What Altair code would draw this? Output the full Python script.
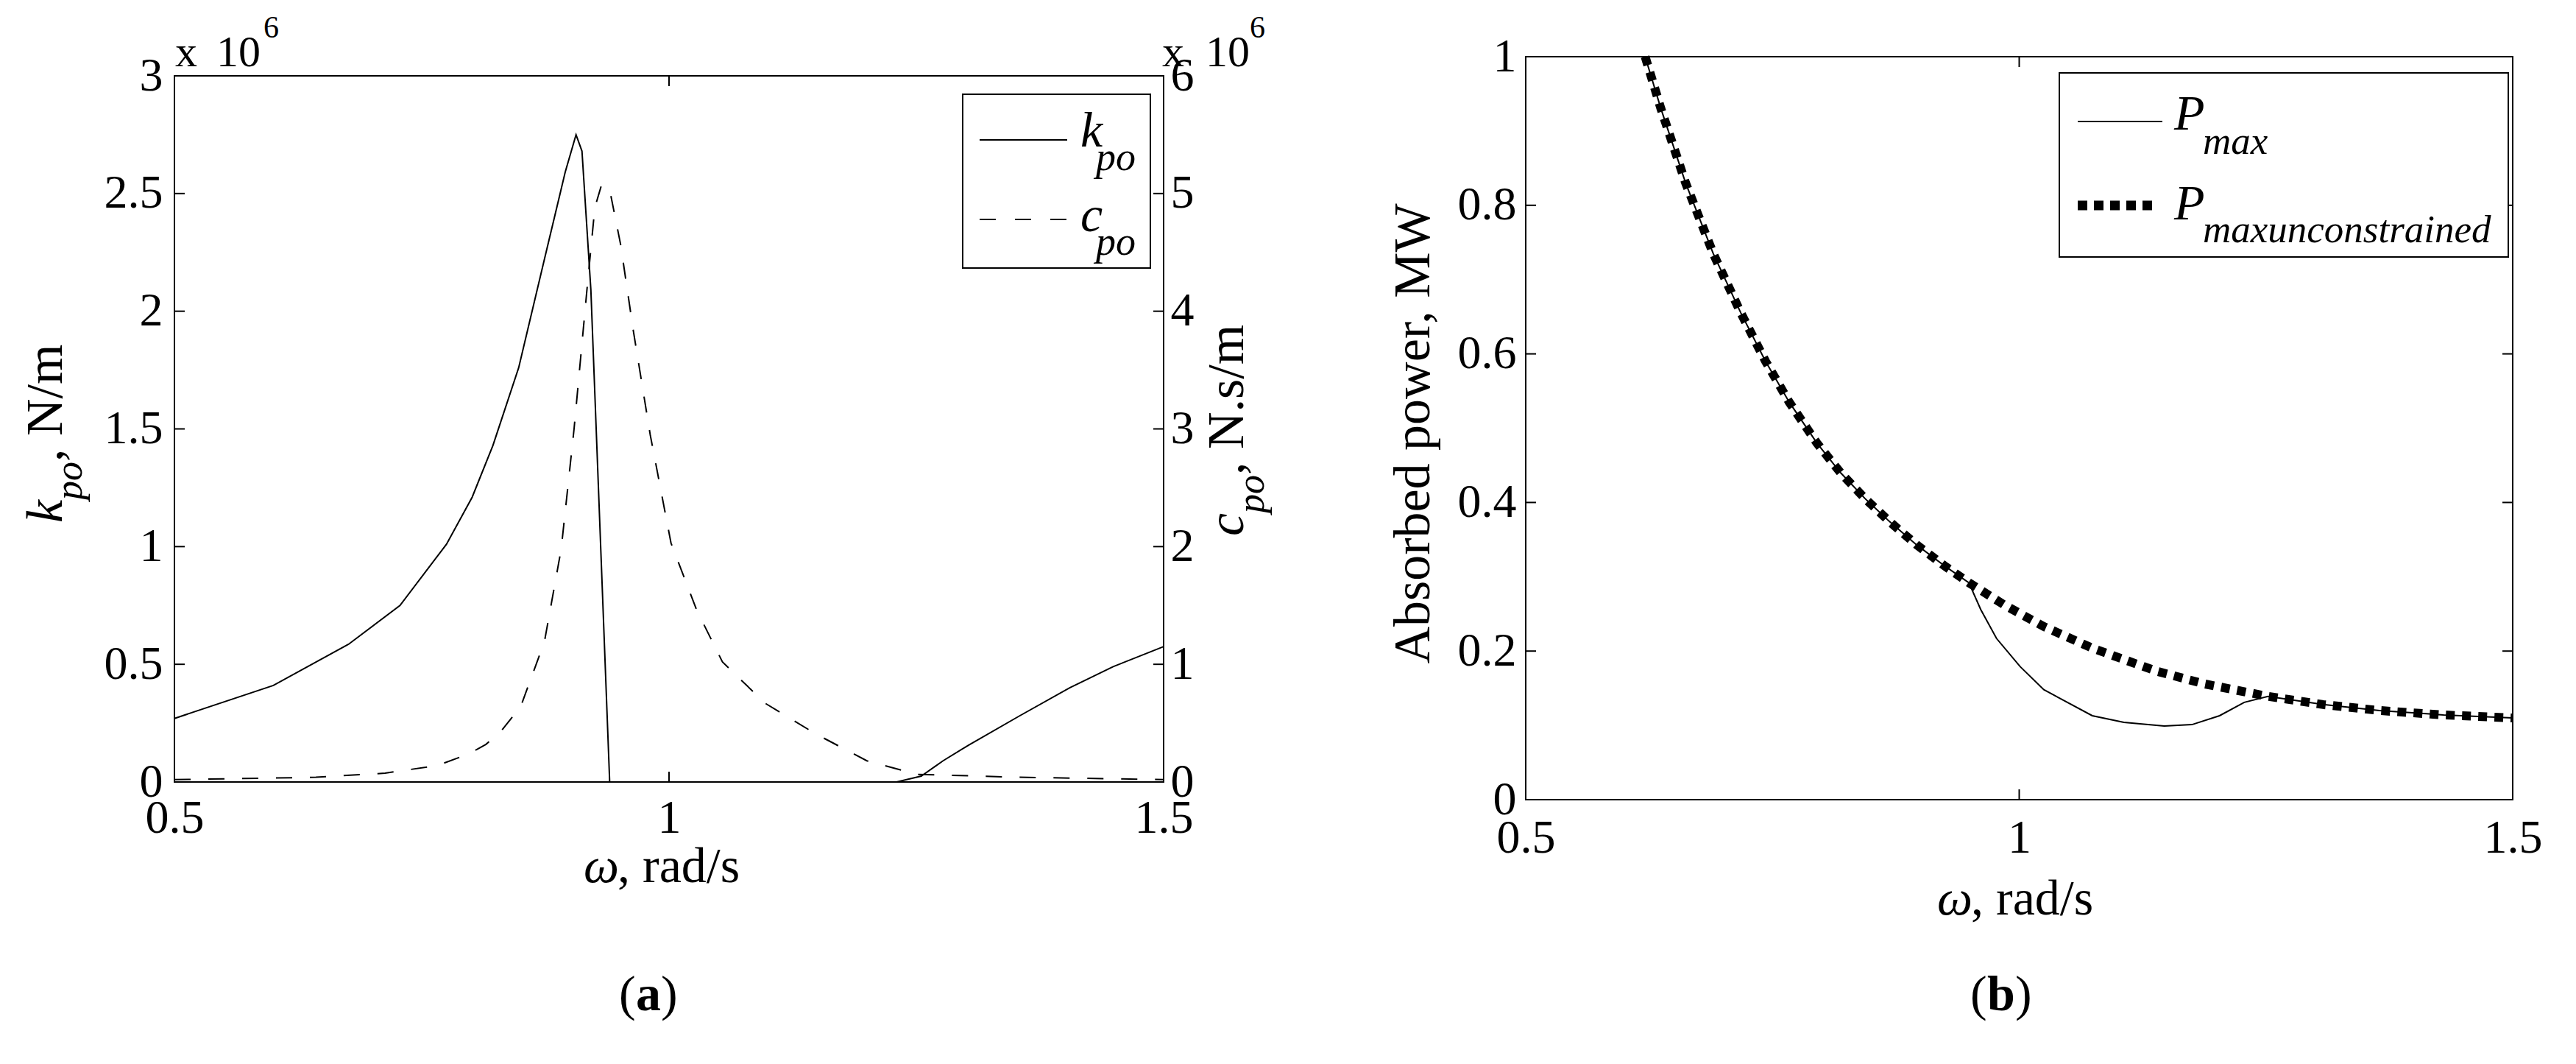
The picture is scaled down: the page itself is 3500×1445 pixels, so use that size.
import altair as alt
import pandas as pd

FONT = "Liberation Serif"
W_A, H_A = 1344, 985      # panel (a) group; its frame starts TOP_A px below the group top
TOP_A = 26
W_B, H_B = 1341, 1009

# ---------------- data ----------------
# panel (a): k_po in units of 1e6 N/m, c_po in units of 1e6 N.s/m
w_k = [0.5, 0.6, 0.676, 0.728, 0.775, 0.801, 0.822, 0.848, 0.874, 0.895, 0.906, 0.912,
       0.921, 0.940, 1.230, 1.255, 1.277, 1.303, 1.354, 1.405, 1.449, 1.5]
k_po = [0.27, 0.41, 0.585, 0.75, 1.01, 1.21, 1.43, 1.76, 2.22, 2.59, 2.75, 2.68,
        2.09, 0.0, 0.0, 0.025, 0.09, 0.157, 0.28, 0.40, 0.49, 0.575]
w_c = [0.5, 0.643, 0.713, 0.766, 0.798, 0.815, 0.831, 0.850, 0.874, 0.891, 0.904, 0.917,
       0.925, 0.932, 0.941, 0.951, 0.964, 0.981, 1.002, 1.028, 1.054, 1.097, 1.148, 1.200,
       1.251, 1.354, 1.5]
c_po = [0.02, 0.04, 0.075, 0.14, 0.24, 0.32, 0.44, 0.64, 1.19, 1.98, 3.0, 4.18,
        4.88, 5.08, 4.99, 4.57, 3.83, 2.95, 2.03, 1.46, 1.02, 0.67, 0.41, 0.18,
        0.065, 0.04, 0.02]

# panel (b): absorbed power in MW
w_unc = [0.621, 0.637, 0.662, 0.690, 0.718, 0.743, 0.767, 0.795, 0.819, 0.844, 0.868, 0.896,
         0.924, 0.949, 0.985, 1.025, 1.074, 1.139, 1.187, 1.252, 1.308, 1.365, 1.430, 1.5]
p_unc = [1.0, 0.93, 0.83, 0.735, 0.655, 0.59, 0.535, 0.48, 0.44, 0.405, 0.375, 0.343,
         0.315, 0.292, 0.262, 0.233, 0.204, 0.173, 0.156, 0.139, 0.128, 0.12, 0.114, 0.110]
w_max = [0.621, 0.637, 0.662, 0.690, 0.718, 0.743, 0.767, 0.795, 0.819, 0.844, 0.868, 0.896,
         0.924, 0.949, 0.961, 0.977, 1.001, 1.025, 1.074, 1.106, 1.147, 1.175, 1.203, 1.228,
         1.252, 1.308, 1.365, 1.430, 1.5]
p_max = [1.0, 0.93, 0.83, 0.735, 0.655, 0.59, 0.535, 0.48, 0.44, 0.405, 0.375, 0.343,
         0.315, 0.292, 0.256, 0.217, 0.179, 0.148, 0.113, 0.104, 0.099, 0.101, 0.113, 0.131,
         0.139, 0.128, 0.12, 0.114, 0.110]

x_ticks = [0.5, 1.0, 1.5]
k_ticks = [0, 0.5, 1, 1.5, 2, 2.5, 3]
c_ticks = [0, 1, 2, 3, 4, 5, 6]
p_ticks = [0, 0.2, 0.4, 0.6, 0.8, 1.0]
x_inner = [1.0]
k_inner = [0.5, 1, 1.5, 2, 2.5]
c_inner = [1, 2, 3, 4, 5]
p_inner = [0.2, 0.4, 0.6, 0.8]

K_MAX, C_MAX = 3.0, 6.0
# stretch the domains so that the top tick sits TOP_A px below the group top
K_DOM = K_MAX * H_A / (H_A - TOP_A)
C_DOM = C_MAX * H_A / (H_A - TOP_A)

TICK = 14
LBL = 64


def X(pad):
    return alt.X('w:Q', scale=alt.Scale(domain=[0.5, 1.5], nice=False, zero=False),
                 axis=alt.Axis(values=x_ticks, format='~g', title=None, ticks=False, domain=False,
                               grid=False, labelFont=FONT, labelFontSize=LBL, labelPadding=pad,
                               labelFlush=False, labelOverlap=False, labelColor='black'))


def Y(field, domain, values, orient, pad):
    return alt.Y(f'{field}:Q', scale=alt.Scale(domain=domain, nice=False, zero=False),
                 axis=alt.Axis(values=values, format='~g', title=None, ticks=False, domain=False,
                               grid=False, orient=orient, labelFont=FONT, labelFontSize=LBL,
                               labelPadding=pad, labelFlush=False, labelOverlap=False,
                               labelColor='black'))


def txt(s, x, y, size, style='normal', weight='normal', align='left', angle=0, color='black'):
    return alt.Chart(pd.DataFrame({'t': [s]})).mark_text(
        font=FONT, fontSize=size, fontStyle=style, fontWeight=weight, align=align,
        baseline='alphabetic', angle=angle, color=color
    ).encode(text='t:N', x=alt.value(x), y=alt.value(y))


def hrule(x1, x2, y, color='black', width=2, dash=None):
    kw = dict(color=color, strokeWidth=width, strokeCap='butt')
    if dash:
        kw['strokeDash'] = dash
    return alt.Chart(pd.DataFrame({'a': [0]})).mark_rule(**kw).encode(
        x=alt.value(x1), x2=alt.value(x2), y=alt.value(y))


def vrule(x, y1, y2, color='black', width=2):
    return alt.Chart(pd.DataFrame({'a': [0]})).mark_rule(color=color, strokeWidth=width).encode(
        x=alt.value(x), y=alt.value(y1), y2=alt.value(y2))


def box(x1, x2, y1, y2, fill='white'):
    return alt.Chart(pd.DataFrame({'a': [0]})).mark_rect(
        fill=fill, stroke='black', strokeWidth=2).encode(
        x=alt.value(x1), x2=alt.value(x2), y=alt.value(y1), y2=alt.value(y2))


# ---------------- panel (a) ----------------
T = TOP_A
Xa = X(17)
Yk = Y('k', [0, K_DOM], k_ticks, 'left', 16)
Yc = Y('c', [0, C_DOM], c_ticks, 'right', 9)

df_k = pd.DataFrame({'w': w_k, 'k': k_po})
df_c = pd.DataFrame({'w': w_c, 'c': c_po})

frame_a = box(0, W_A, T, H_A, fill='transparent')
k_line = alt.Chart(df_k).mark_line(color='black', strokeWidth=2).encode(x=Xa, y=Yk)
k_tick_l = alt.Chart(pd.DataFrame({'k': k_inner})).mark_rule(color='black', strokeWidth=2).encode(
    y=Yk, x=alt.value(0), x2=alt.value(TICK))
xa_tick_b = alt.Chart(pd.DataFrame({'w': x_inner})).mark_rule(color='black', strokeWidth=2).encode(
    x=Xa, y=alt.value(H_A - TICK), y2=alt.value(H_A))
xa_tick_t = alt.Chart(pd.DataFrame({'w': x_inner})).mark_rule(color='black', strokeWidth=2).encode(
    x=Xa, y=alt.value(T), y2=alt.value(T + TICK))
group_k = alt.layer(k_line, k_tick_l, xa_tick_b, xa_tick_t)

c_line = alt.Chart(df_c).mark_line(color='black', strokeWidth=2, strokeDash=[22, 24]).encode(x=Xa, y=Yc)
c_tick_r = alt.Chart(pd.DataFrame({'c': c_inner})).mark_rule(color='black', strokeWidth=2).encode(
    y=Yc, x=alt.value(W_A - TICK), x2=alt.value(W_A))
group_c = alt.layer(c_line, c_tick_r)

ann_a = [
    # legend
    box(1071, 1326, T + 25, T + 261),
    hrule(1094, 1213, T + 87, width=2),
    hrule(1094, 1213, T + 195, width=2, dash=[22, 26]),
    txt('k', 1231, T + 96, 68, style='italic'),
    txt('po', 1252, T + 128, 54, style='italic'),
    txt('c', 1231, T + 211, 68, style='italic'),
    txt('po', 1252, T + 243, 54, style='italic'),
    # multipliers
    txt('x', 1, T - 13, 60), txt('10', 57, T - 13, 60), txt('6', 121, T - 52, 42),
    txt('x', 1342, T - 13, 60), txt('10', 1401, T - 13, 60), txt('6', 1461, T - 52, 42),
    # left y title
    txt('k', -153, T + 607, 70, style='italic', angle=270),
    txt('po', -126, T + 576, 52, style='italic', angle=270),
    txt(', N/m', -153, T + 524, 70, angle=270),
    # right y title
    txt('c', W_A + 108, T + 625, 70, style='italic', angle=270),
    txt('po', W_A + 136, T + 594, 52, style='italic', angle=270),
    txt(', N.s/m', W_A + 108, T + 542, 70, angle=270),
    # x title
    txt('ω', 556, H_A + 136, 68, style='italic'),
    txt(', rad/s', 602, H_A + 136, 68),
    # caption
    txt('(', 604, 1295, 68), txt('a', 627, 1295, 68, weight='bold'), txt(')', 661, 1295, 68),
    # invisible extent guides
    hrule(-228, -3, H_A + 180, color='white', width=1),
    hrule(W_A + 3, W_A + 200, H_A + 180, color='white', width=1),
]

panel_a = alt.layer(frame_a, group_k, group_c, *ann_a).resolve_scale(y='independent').properties(
    width=W_A, height=H_A)

# ---------------- panel (b) ----------------
Xb = X(20)
Yp = Y('p', [0, 1], p_ticks, 'left', 13)

df_max = pd.DataFrame({'w': w_max, 'p': p_max})
df_unc = pd.DataFrame({'w': w_unc, 'p': p_unc})

frame_b = box(0, W_B, 0, H_B, fill='transparent')
max_line = alt.Chart(df_max).mark_line(color='black', strokeWidth=2).encode(x=Xb, y=Yp)
unc_line = alt.Chart(df_unc).mark_line(color='black', strokeWidth=12, strokeDash=[12, 10],
                                       strokeCap='butt').encode(x=Xb, y=Yp)
p_tick_l = alt.Chart(pd.DataFrame({'p': p_inner})).mark_rule(color='black', strokeWidth=2).encode(
    y=Yp, x=alt.value(0), x2=alt.value(TICK))
p_tick_r = alt.Chart(pd.DataFrame({'p': p_inner})).mark_rule(color='black', strokeWidth=2).encode(
    y=Yp, x=alt.value(W_B - TICK), x2=alt.value(W_B))
xb_tick_b = alt.Chart(pd.DataFrame({'w': x_inner})).mark_rule(color='black', strokeWidth=2).encode(
    x=Xb, y=alt.value(H_B - TICK), y2=alt.value(H_B))
xb_tick_t = alt.Chart(pd.DataFrame({'w': x_inner})).mark_rule(color='black', strokeWidth=2).encode(
    x=Xb, y=alt.value(0), y2=alt.value(TICK))

ann_b = [
    box(725, 1335, 22, 272),
    hrule(750, 865, 88, width=2),
    hrule(750, 858, 202, width=13, dash=[13, 9]),
    txt('P', 881, 99, 68, style='italic'),
    txt('max', 920, 132, 53, style='italic'),
    txt('P', 881, 221, 68, style='italic'),
    txt('maxunconstrained', 920, 252, 53, style='italic'),
    # y title
    txt('Absorbed power, MW', -131, 512, 70, align='center', angle=270),
    # x title
    txt('ω', 559, H_B + 156, 68, style='italic'),
    txt(', rad/s', 605, H_B + 156, 68),
    # caption
    txt('(', 604, 1295, 68), txt('b', 627, 1295, 68, weight='bold'), txt(')', 665, 1295, 68),
    # invisible extent guides
    hrule(-200, -3, H_B + 180, color='white', width=1),
    vrule(W_B / 2, -68, -3, color='white', width=1),
]

panel_b = alt.layer(frame_b, max_line, unc_line, p_tick_l, p_tick_r, xb_tick_b, xb_tick_t,
                    *ann_b).properties(width=W_B, height=H_B)

chart = alt.hconcat(panel_a, panel_b, spacing=90).properties(
    padding=0, background='white'
).configure_view(stroke='transparent')

chart.save("out.html", embed_options={"renderer": "svg", "actions": False})
